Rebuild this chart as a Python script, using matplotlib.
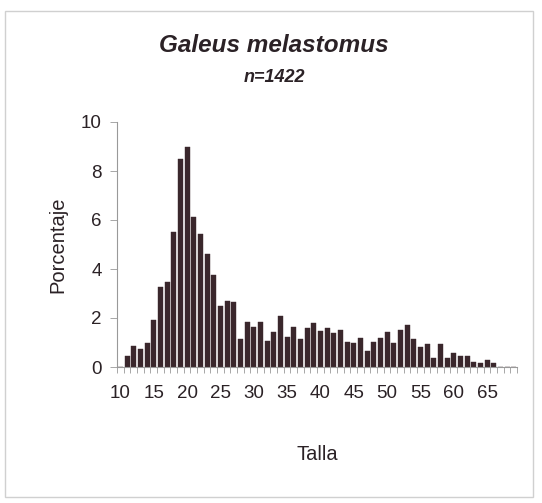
import numpy as np
import matplotlib.pyplot as plt
from matplotlib.patches import Rectangle

# Size classes (cm) and percentage of individuals
talla = list(range(10, 70))
porcentaje = [0.0, 0.43, 0.85, 0.72, 1.0, 1.92, 3.25, 3.45, 5.5, 8.5,
              9.0, 6.12, 5.42, 4.6, 3.75, 2.5, 2.7, 2.65, 1.15, 1.85,
              1.65, 1.85, 1.05, 1.42, 2.08, 1.22, 1.65, 1.14, 1.58, 1.8,
              1.45, 1.6, 1.38, 1.52, 1.03, 0.96, 1.17, 0.67, 1.03, 1.17,
              1.42, 1.0, 1.5, 1.72, 1.15, 0.8, 0.93, 0.35, 0.93, 0.35,
              0.57, 0.44, 0.44, 0.22, 0.16, 0.29, 0.15, 0.0, 0.0, 0.0]
xticks = list(range(10, 70, 5))
yticks = [0, 2, 4, 6, 8, 10]

plt.rcParams['font.family'] = ['Liberation Sans', 'DejaVu Sans']
txt = '#2b2226'
bar_col = '#3a272c'
fs = 13.5

fig = plt.figure(figsize=(5.42, 5.03), dpi=100)
# light outer frame
fig.patches.append(Rectangle((5 / 542, 6 / 503), 528 / 542, 486 / 503,
                             transform=fig.transFigure, fill=False,
                             edgecolor='#d0d0d0', lw=1))

ax = fig.add_axes([117 / 542, 1 - 367 / 503, 400 / 542, 245 / 503])
ax.bar(talla, porcentaje, width=0.75, color=bar_col, edgecolor=bar_col, lw=0.3)

ax.set_xlim(9.5, 69.5)
ax.set_ylim(0, 10)
ax.set_yticks(yticks)
ax.set_xticks(xticks)
ax.set_xticks(np.arange(9.5, 70, 1), minor=True)
ax.tick_params(axis='x', which='major', length=0, pad=13, labelsize=fs, labelcolor=txt)
ax.tick_params(axis='x', which='minor', length=4, width=0.6, color='#999999')
ax.tick_params(axis='y', length=5, width=0.6, color='#999999', labelsize=fs,
               labelcolor=txt, pad=6)

for s in ['top', 'right']:
    ax.spines[s].set_visible(False)
for s in ['left', 'bottom']:
    ax.spines[s].set_color('#999999')
    ax.spines[s].set_linewidth(0.8)

ax.set_ylabel('Porcentaje', fontsize=14.5, color=txt, labelpad=10)
ax.set_xlabel('Talla', fontsize=14.5, color=txt, labelpad=31)

fig.text(274 / 542, 1 - 45 / 503, 'Galeus melastomus', ha='center', va='center',
         fontsize=17.5, fontweight='bold', fontstyle='italic', color=txt)
fig.text(274 / 542, 1 - 77 / 503, 'n=1422', ha='center', va='center',
         fontsize=13, fontweight='bold', fontstyle='italic', color=txt)

fig.savefig('out.png', dpi=100)
